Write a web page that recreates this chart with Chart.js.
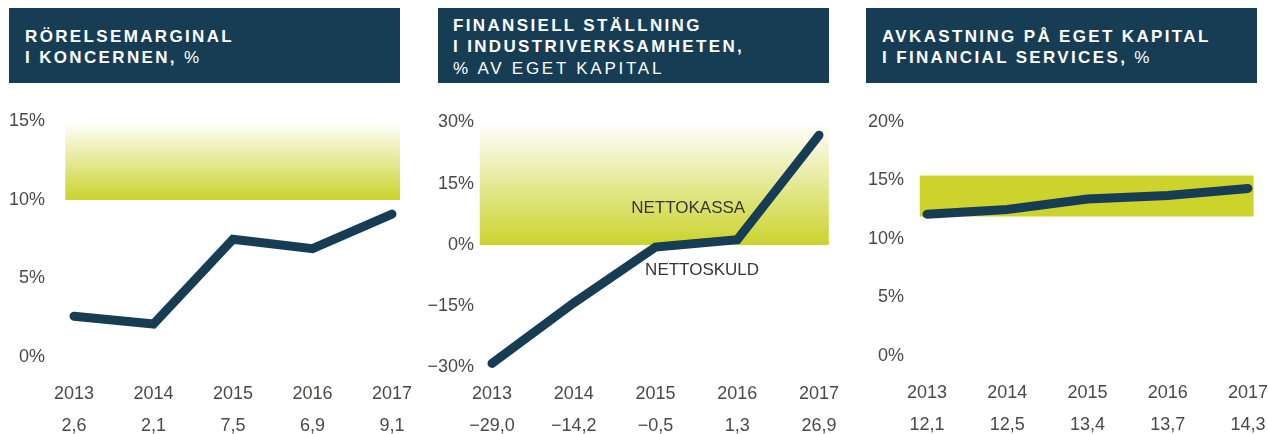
<!DOCTYPE html>
<html>
<head>
<meta charset="utf-8">
<script src="https://cdn.jsdelivr.net/npm/chart.js@4.4.0/dist/chart.umd.min.js"></script>
<style>
html,body{margin:0;overflow:hidden}
body{width:1268px;height:434px;background:#fff;font-family:"Liberation Sans",Arial,sans-serif;position:relative}
.title{position:absolute;top:8px;height:75px;width:391px;background:#173d55;color:#fff;box-sizing:border-box;padding:3px 0 0 16px;display:flex;flex-direction:column;justify-content:center;font-size:17px;letter-spacing:2.35px;line-height:21.5px}
.title b{font-weight:bold}
.title .reg{letter-spacing:2.75px}
canvas{position:absolute;top:100px}
</style>
</head>
<body>
<div class="title" style="left:9px"><b>RÖRELSEMARGINAL</b><span><b>I KONCERNEN,</b> <span class="reg">%</span></span></div>
<div class="title" style="left:438px;padding-left:15px"><b>FINANSIELL STÄLLNING</b><b>I INDUSTRIVERKSAMHETEN,</b><span class="reg">% AV EGET KAPITAL</span></div>
<div class="title" style="left:866px"><b>AVKASTNING PÅ EGET KAPITAL</b><span><b>I FINANCIAL SERVICES,</b> <span class="reg">%</span></span></div>

<canvas id="c1" width="420" height="334" style="left:0"></canvas>
<canvas id="c2" width="430" height="334" style="left:420px"></canvas>
<canvas id="c3" width="418" height="334" style="left:850px"></canvas>

<script>
// data
const years = ['2013', '2014', '2015', '2016', '2017'];
const rorelsemarginal = [2.6, 2.1, 7.5, 6.9, 9.1];
const finansiellStallning = [-29.0, -14.2, -0.5, 1.3, 26.9];
const avkastningEK = [12.1, 12.5, 13.4, 13.7, 14.3];

const yTicks1 = [0, 5, 10, 15];
const yTicks2 = [-30, -15, 0, 15, 30];
const yTicks3 = [0, 5, 10, 15, 20];

// target bands (value range, x range in category index units)
const band1 = [10, 15];
const band2 = [0, 30];
const band3 = [11.9, 15.4];
const bandX1 = [-0.11, 4.1];
const bandX2 = [-0.15, 4.12];
const bandX3 = [-0.09, 4.07];

const notes2 = ['NETTOKASSA', 'NETTOSKULD'];
const notesX2 = [2.4, 2.57];
const notesY2 = [9.1, -6.1];

const navy = '#173d55';
const lime = '#cbd32c';
const textGrey = '#4d4848';
const fontFam = '"Liberation Sans", Arial, sans-serif';
const clear = 'rgba(0,0,0,0)';

function fmt(v) {
    var s = Math.abs(v).toFixed(1).replace('.', ',');
    return v < 0 ? '\u2212' + s : s;
}
function fmtPct(v) {
    return (v < 0 ? '\u2212' + Math.abs(v) : v) + '%';
}

function bandPlugin(band, bandX, gradient) {
    return {
        id: 'band',
        beforeDatasetsDraw(chart) {
            const ctx = chart.ctx, x = chart.scales.x, y = chart.scales.y;
            const x0 = x.getPixelForValue(bandX[0]), x1 = x.getPixelForValue(bandX[1]);
            const yTop = y.getPixelForValue(band[1]), yBot = y.getPixelForValue(band[0]);
            ctx.save();
            if (gradient) {
                const g = ctx.createLinearGradient(0, yTop, 0, yBot);
                g.addColorStop(0, 'rgba(203,211,44,0)');
                g.addColorStop(1, lime);
                ctx.fillStyle = g;
            } else {
                ctx.fillStyle = lime;
            }
            ctx.fillRect(x0, yTop, x1 - x0, yBot - yTop);
            ctx.restore();
        }
    };
}

const notesPlugin = {
    id: 'notes',
    afterDraw(chart) {
        if (chart.canvas.id !== 'c2') return;
        const ctx = chart.ctx;
        ctx.save();
        ctx.font = '17px ' + fontFam;
        ctx.fillStyle = '#3a3535';
        ctx.textAlign = 'center';
        ctx.textBaseline = 'middle';
        notes2.forEach((t, i) => {
            ctx.fillText(t, chart.scales.x.getPixelForValue(notesX2[i]), chart.scales.y.getPixelForValue(notesY2[i]));
        });
        ctx.restore();
    }
};

// tick gaps are done with invisible tick marks, ticks.padding would also pad the chart area
function makeChart(id, values, yTicks, band, bandX, gradient, lay) {
    return new Chart(document.getElementById(id), {
        type: 'line',
        data: {
            labels: years.map((y, i) => [y, fmt(values[i])]),
            datasets: [{
                data: values,
                borderColor: navy,
                borderWidth: 9,
                borderCapStyle: 'round',
                borderJoinStyle: 'miter',
                pointRadius: 0,
                tension: 0,
                clip: false
            }]
        },
        options: {
            responsive: false,
            animation: false,
            layout: { padding: { top: lay.top, right: lay.right, bottom: 0, left: 0 } },
            plugins: { legend: { display: false }, tooltip: { enabled: false } },
            scales: {
                x: {
                    grid: { color: clear, drawOnChartArea: false, drawTicks: true, tickLength: lay.xpad },
                    border: { display: false },
                    afterFit(s) { s.height = lay.xh; },
                    ticks: {
                        autoSkip: false,
                        maxRotation: 0,
                        padding: 0,
                        color: textGrey,
                        font: { size: 18, family: fontFam, lineHeight: 32 / 18 }
                    }
                },
                y: {
                    min: yTicks[0],
                    max: yTicks[yTicks.length - 1],
                    grid: { color: clear, drawOnChartArea: false, drawTicks: true, tickLength: lay.ypad },
                    border: { display: false },
                    afterBuildTicks(s) { s.ticks = yTicks.map(v => ({ value: v })); },
                    afterFit(s) { s.width = lay.yw; },
                    ticks: {
                        padding: 0,
                        color: textGrey,
                        font: { size: 18, family: fontFam },
                        callback: v => fmtPct(v)
                    }
                }
            }
        },
        plugins: [bandPlugin(band, bandX, gradient), notesPlugin]
    });
}

makeChart('c1', rorelsemarginal, yTicks1, band1, bandX1, true,
    { top: 21.5, right: 28, xh: 77, xpad: 21, yw: 74, ypad: 29 });
makeChart('c2', finansiellStallning, yTicks2, band2, bandX2, true,
    { top: 22.5, right: 31, xh: 66.5, xpad: 10.5, yw: 72, ypad: 18 });
makeChart('c3', avkastningEK, yTicks3, band3, bandX3, false,
    { top: 21.7, right: 17, xh: 78.2, xpad: 21, yw: 77, ypad: 23 });
</script>
</body>
</html>
